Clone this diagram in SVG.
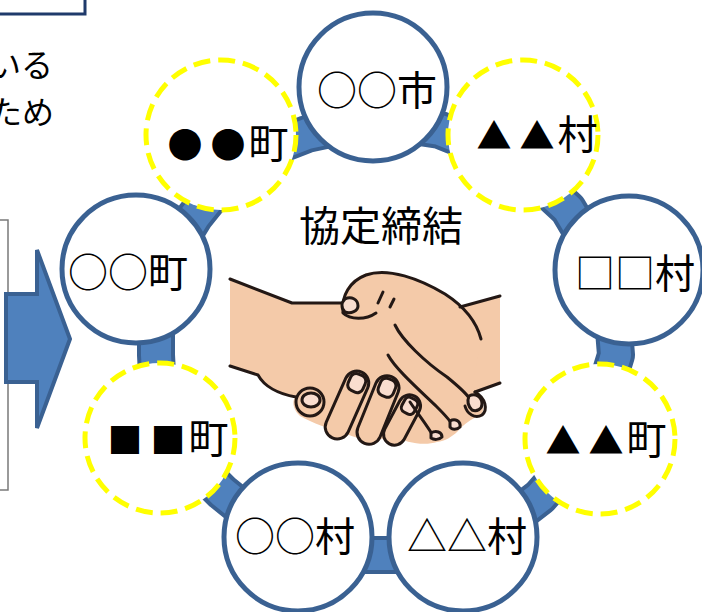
<svg xmlns="http://www.w3.org/2000/svg" width="702" height="612" viewBox="0 0 702 612">
  <style>
    .label { font-family: "Noto Sans CJK JP", "Noto Sans CJK SC", sans-serif; font-size: 40px; fill: #000; text-anchor: middle; }
    .sym { font-size: 35px; letter-spacing: 8px; }
    .sym-last { font-size: 35px; letter-spacing: 3px; }
    .side { font-family: "Noto Sans CJK JP", "Noto Sans CJK SC", sans-serif; font-size: 32px; fill: #000; text-anchor: end; }
    .member { fill: #fff; stroke: #3A6192; stroke-width: 5; }
    .partner { fill: #fff; stroke: #FFFF00; stroke-width: 5; stroke-dasharray: 17 8; }
    .band-edge { fill: none; stroke: #3A6192; stroke-width: 38; stroke-linejoin: round; }
    .band-core { fill: none; stroke: #4F81BD; stroke-width: 30; stroke-linejoin: round; }
    .ink { fill: none; stroke: #231815; stroke-width: 3; stroke-linecap: round; stroke-linejoin: round; }
    .skin { fill: #F4CAA9; }
    .nail { fill: #F9DDCF; stroke: #231815; stroke-width: 3; stroke-linejoin: round; }
    .finger { fill: #F4CAA9; stroke: #231815; stroke-width: 3; stroke-linejoin: round; }
  </style>

  <rect width="702" height="612" fill="#fff"/>

  <!-- panels at the left edge -->
  <g id="top-panel">
    <path d="M0,14 H85 V0" fill="#fff" stroke="#1F3A6B" stroke-width="3"/>
  </g>
  <g id="side-note">
    <text class="side" x="53" y="77">いる</text>
    <text class="side" x="54" y="124">ため</text>
  </g>
  <g id="left-box">
    <path d="M0,220 H8 V490 H0" fill="#fff" stroke="#7A7A7A" stroke-width="1.5"/>
  </g>
  <g id="arrow">
    <polygon points="6,294 37,294 37,250 70,339 37,428 37,382 6,382" fill="#4F81BD" stroke="#3A6192" stroke-width="4" stroke-linejoin="miter"/>
  </g>

  <!-- ring band linking the members -->
  <g id="connectors">
    <path class="band-edge" d="M307,134 L373,120 L440,130 L515,160 L568,209 L610,280 L616,355 L590,440 L540,497 L465,555 L380,555 L300,555 L222,492 L160,430 L156,355 L156,280 L195,216 L240,160 Z"/>
    <path class="band-core" d="M307,134 L373,120 L440,130 L515,160 L568,209 L610,280 L616,355 L590,440 L540,497 L465,555 L380,555 L300,555 L222,492 L160,430 L156,355 L156,280 L195,216 L240,160 Z"/>
  </g>

  <!-- handshake -->
  <g id="handshake">
    <path class="skin" d="M230,279 L292,303 L342,303 C343,290 352,278 367,273 C390,268 420,280 445,295 L460,307 L500,296 L500,383 L475,392 C486,402 486,415 476,417 C468,421 462,426 458,431 C452,437 445,441 437,442 C425,446 405,443 395,436 C380,441 360,441 345,433 C330,429 312,423 300,416 C292,409 292,399 296,397 C280,395 265,388 258,375 L230,366 Z"/>
    <!-- lower hand fingers -->
    <g>
      <rect class="finger" x="-12" y="-36" width="24" height="72" rx="12" transform="translate(347,405) rotate(24)"/>
      <rect class="nail" x="-8" y="-33" width="16" height="18" rx="6" transform="translate(347,405) rotate(24)"/>
      <rect class="finger" x="-12" y="-36" width="24" height="72" rx="12" transform="translate(378,410) rotate(22)"/>
      <rect class="nail" x="-8" y="-33" width="16" height="18" rx="6" transform="translate(378,410) rotate(22)"/>
      <rect class="finger" x="-11" y="-27" width="22" height="54" rx="11" transform="translate(402,420) rotate(28)"/>
      <rect class="nail" x="-7" y="-24" width="14" height="16" rx="5" transform="translate(402,420) rotate(28)"/>
      <circle class="finger" cx="310" cy="402" r="14"/>
      <ellipse class="nail" cx="311" cy="400" rx="9" ry="7"/>
    </g>
    <!-- outlines -->
    <path class="ink" d="M230,279 L292,303 L343,303"/>
    <path class="ink" d="M230,366 L258,375 C264,386 278,394 296,397"/>
    <path class="skin" d="M343,312 C341,296 350,281 366,275 C388,267 420,279 445,294 C462,305 476,320 481,339 L470,400 L437,410 L395,330 L380,312 Z"/>
    <path class="ink" d="M343,312 C341,296 350,281 366,275 C388,267 420,279 445,294 C462,305 476,320 481,339"/>
    <path class="ink" d="M343,313 C350,320 366,320 376,313"/>
    <path class="nail" d="M345,299 C351,296 358,299 358,306 C358,311 351,314 345,312 C341,308 341,303 345,299 Z"/>
    <path class="ink" d="M383,292 L378,303 M394,299 L390,307"/>
    <path class="ink" d="M460,307 L500,296 M475,392 L500,383"/>
    <path class="ink" d="M395,325 C402,340 425,362 447,377 C458,386 466,393 469,398"/>
    <path class="ink" d="M475,392 C486,398 488,410 482,415 C475,419 467,414 465,406"/>
    <path class="nail" d="M469,396 C475,393 482,396 482,404 C482,409 477,412 472,410 C468,406 467,401 469,396 Z"/>
    <path class="ink" d="M388,355 C395,368 415,386 437,407 C445,415 451,421 453,426"/>
    <path class="nail" d="M450,421 C455,418 461,421 460,427 C457,430 452,430 450,427 Z"/>
    <path class="ink" d="M410,402 C418,414 426,424 432,434"/>
    <path class="nail" d="M431,433 C436,430 442,432 442,437 C439,440 434,440 431,438 Z"/>
  </g>

  <!-- member nodes -->
  <g id="n-shi"><circle class="member" cx="373" cy="87" r="74"/><text class="label" x="377" y="105">○○市</text></g>
  <g id="n-tri-mura"><circle class="partner" cx="523" cy="135" r="75"/><text class="label" x="537" y="149"><tspan class="sym">▲</tspan><tspan class="sym-last">▲</tspan>村</text></g>
  <g id="n-sq-mura"><circle class="member" cx="629" cy="270" r="74"/><text class="label" x="635" y="288">□□村</text></g>
  <g id="n-tri-machi"><circle class="partner" cx="600" cy="439" r="75"/><text class="label" x="606" y="454"><tspan class="sym">▲</tspan><tspan class="sym-last">▲</tspan>町</text></g>
  <g id="n-otri-mura"><circle class="member" cx="463" cy="537" r="74"/><text class="label" x="467" y="551">△△村</text></g>
  <g id="n-o-mura"><circle class="member" cx="298" cy="537" r="74"/><text class="label" x="295" y="551">○○村</text></g>
  <g id="n-sq-machi"><circle class="partner" cx="160" cy="438" r="75"/><text class="label" x="168" y="453"><tspan class="sym">■</tspan><tspan class="sym-last">■</tspan>町</text></g>
  <g id="n-o-machi"><circle class="member" cx="136" cy="269" r="74"/><text class="label" x="128" y="287">○○町</text></g>
  <g id="n-dot-machi"><circle class="partner" cx="221" cy="135" r="75"/><text class="label" x="228" y="158"><tspan class="sym">●</tspan><tspan class="sym-last">●</tspan>町</text></g>

  <g id="title">
    <text class="label" x="381" y="241" style="font-size:41px">協定締結</text>
  </g>
</svg>
